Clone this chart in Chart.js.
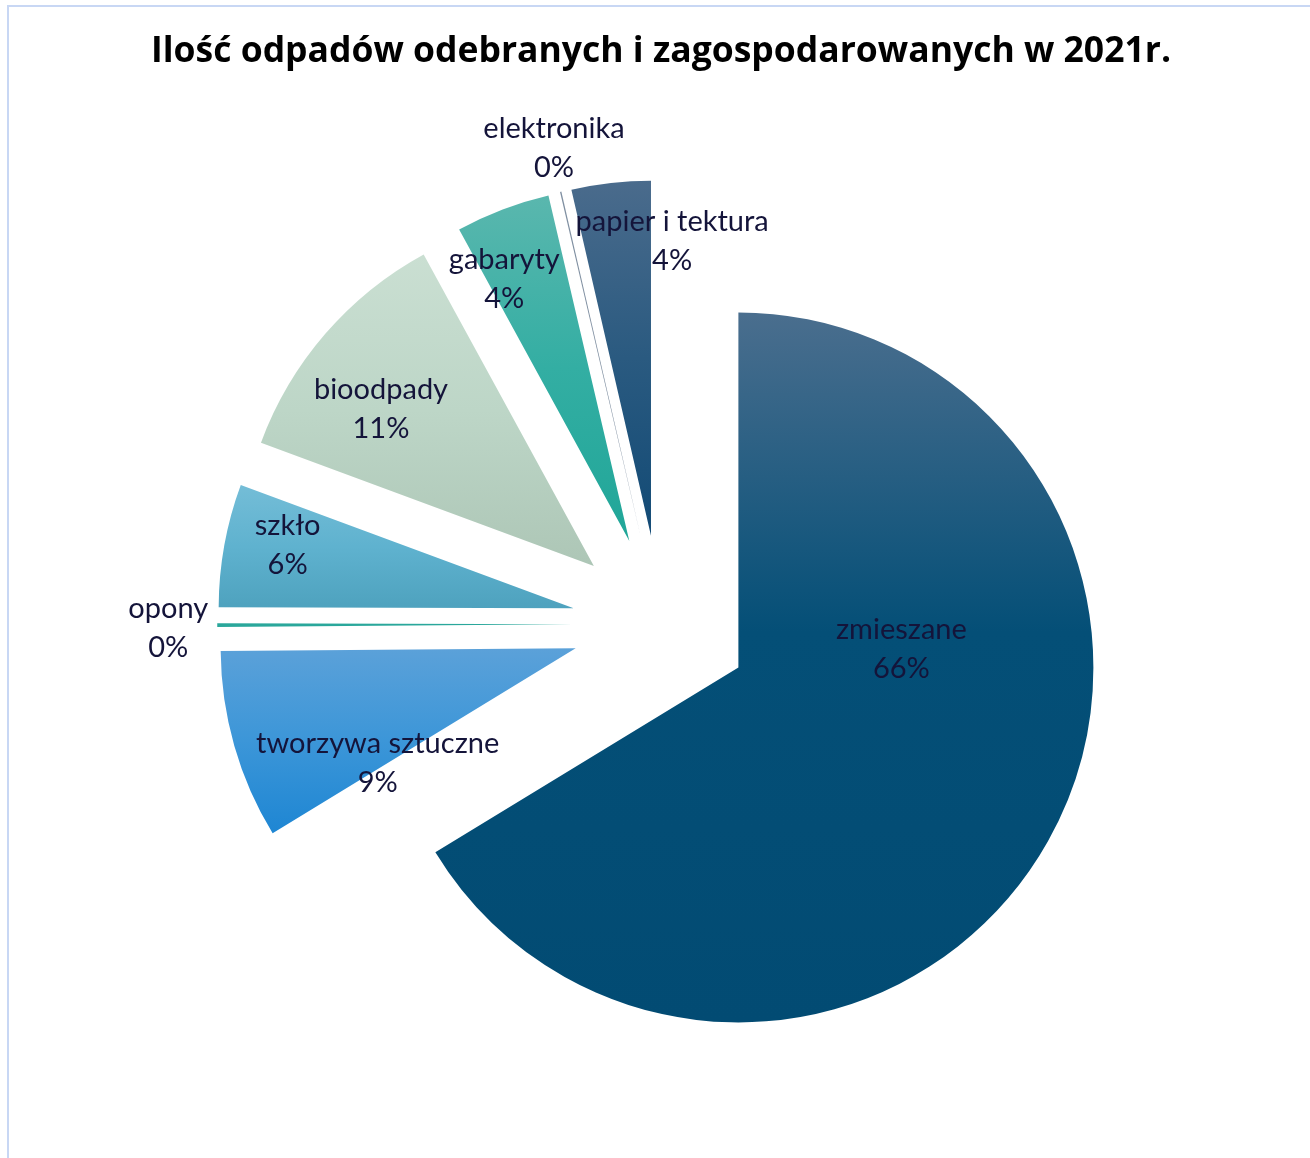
<!DOCTYPE html>
<html lang="pl">
<head>
<meta charset="utf-8">
<title>Ilość odpadów odebranych i zagospodarowanych w 2021r.</title>
<script src="https://cdn.jsdelivr.net/npm/chart.js@4.4.1/dist/chart.umd.min.js"></script>
<style>
  html, body { margin: 0; padding: 0; background: #fff; overflow: hidden; }
  #wrap { position: relative; width: 1310px; height: 1158px; }
  #frame {
    position: absolute; left: 7px; top: 5px; right: -10px; bottom: -10px;
    border-left: 2px solid #c8d7f4; border-top: 2px solid #c8d7f4;
    pointer-events: none;
  }
  #chart { position: absolute; left: 0; top: 0; }
</style>
</head>
<body>
<div id="wrap">
  <canvas id="chart" width="1310" height="1158"></canvas>
  <div id="frame"></div>
</div>
<script>
// ─── Data (shares of waste, %) ──────────────────────────────────────────
const categories = [
  "zmieszane",
  "tworzywa sztuczne",
  "opony",
  "szkło",
  "bioodpady",
  "gabaryty",
  "elektronika",
  "papier i tektura",
];
const shares = [66.3, 8.6, 0.17, 5.6, 11.4, 4.3, 0.06, 3.6];

// ─── Styling ────────────────────────────────────────────────────────────
// gradient per slice: top, middle, bottom
const sliceColors = [
  ["#4a6e8e", "#044f77", "#024b73"],
  ["#5ba1d9", "#3c96d8", "#1e86d3"],
  ["#2aa79b", "#2aa79b", "#2aa79b"],
  ["#74bdd7", "#5fb2cf", "#4ea2be"],
  ["#cadfd2", "#bdd6c7", "#adc6b6"],
  ["#5ab7ae", "#33aea3", "#20a698"],
  ["#8090a2", "#7c8c9e", "#76879a"],
  ["#4a6b8c", "#2a5a80", "#124a75"],
];
const midStop = [0.45, 0.5, 0.5, 0.5, 0.5, 0.5, 0.5, 0.5];

// label placement relative to each exploded slice tip: angle (deg, clockwise
// from 12 o'clock) and distance as a fraction of the radius
const labelAngle = [83.7, 240, 269.4, 282.4, 306.4, 334.5, 347.4, 4.1];
const labelDist  = [0.462, 0.644, 1.138, 0.825, 0.745, 0.818, 1.123, 0.833];

const EXPLODE = 0.25;          // fraction of radius
const TEXT_COLOR = "#14143a";
const LABEL_FONT = "29px Lato, 'Open Sans', sans-serif";
const LINE_GAP = 39;

// ─── Helpers ────────────────────────────────────────────────────────────
function sliceFill(context) {
  const i = context.dataIndex;
  const cols = sliceColors[i];
  const arc = context.element;
  if (!arc || !arc.outerRadius) return cols[2];
  const { x, y, startAngle, endAngle, outerRadius } = arc;
  let minY = y, maxY = y;
  for (let k = 0; k <= 48; k++) {
    const a = startAngle + (endAngle - startAngle) * k / 48;
    const py = y + Math.sin(a) * outerRadius;
    minY = Math.min(minY, py);
    maxY = Math.max(maxY, py);
  }
  const g = context.chart.ctx.createLinearGradient(0, minY, 0, maxY);
  g.addColorStop(0, cols[0]);
  g.addColorStop(midStop[i], cols[1]);
  g.addColorStop(1, cols[2]);
  return g;
}

// draws every arc shifted along its mid angle (Excel style explosion)
const explodePlugin = {
  id: "explode",
  beforeDatasetDraw(chart, args) {
    const ctx = chart.ctx;
    args.meta.data.forEach(arc => {
      const mid = (arc.startAngle + arc.endAngle) / 2;
      const d = arc.outerRadius * EXPLODE;
      ctx.save();
      ctx.translate(Math.cos(mid) * d, Math.sin(mid) * d);
      arc.draw(ctx, chart.chartArea);
      ctx.restore();
    });
    return false;
  },
};

const labelPlugin = {
  id: "sliceLabels",
  afterDatasetsDraw(chart) {
    const ctx = chart.ctx;
    const meta = chart.getDatasetMeta(0);
    const total = shares.reduce((a, b) => a + b, 0);
    ctx.save();
    ctx.font = LABEL_FONT;
    ctx.fillStyle = TEXT_COLOR;
    ctx.textAlign = "center";
    ctx.textBaseline = "middle";
    meta.data.forEach((arc, i) => {
      const mid = (arc.startAngle + arc.endAngle) / 2;
      const r = arc.outerRadius;
      const tipX = arc.x + Math.cos(mid) * r * EXPLODE;
      const tipY = arc.y + Math.sin(mid) * r * EXPLODE;
      const a = (labelAngle[i] - 90) * Math.PI / 180;
      const lx = tipX + Math.cos(a) * r * labelDist[i];
      const ly = tipY + Math.sin(a) * r * labelDist[i];
      const pct = Math.round(shares[i] / total * 100) + "%";
      ctx.fillText(categories[i], lx, ly - LINE_GAP / 2);
      ctx.fillText(pct, lx, ly + LINE_GAP / 2);
    });
    ctx.restore();
  },
};

// ─── Chart ──────────────────────────────────────────────────────────────
const chart = new Chart(document.getElementById("chart"), {
  type: "pie",
  data: {
    labels: categories,
    datasets: [{
      data: shares,
      backgroundColor: sliceFill,
      borderWidth: 0,
    }],
  },
  options: {
    responsive: false,
    animation: false,
    events: [],
    radius: 355,
    layout: { padding: { left: 12, right: 0, top: 0, bottom: 0 } },
    plugins: {
      legend: { display: false },
      tooltip: { enabled: false },
      title: {
        display: true,
        text: "Ilość odpadów odebranych i zagospodarowanych w 2021r.",
        color: "#000",
        font: { family: "'Open Sans', Lato, sans-serif", size: 35.5, weight: "bold", lineHeight: 1.2 },
        padding: { top: 31, bottom: 16.4 },
      },
    },
  },
  plugins: [explodePlugin, labelPlugin],
});

// second pass so the gradients can use the computed arc geometry
chart.update();
</script>
</body>
</html>
